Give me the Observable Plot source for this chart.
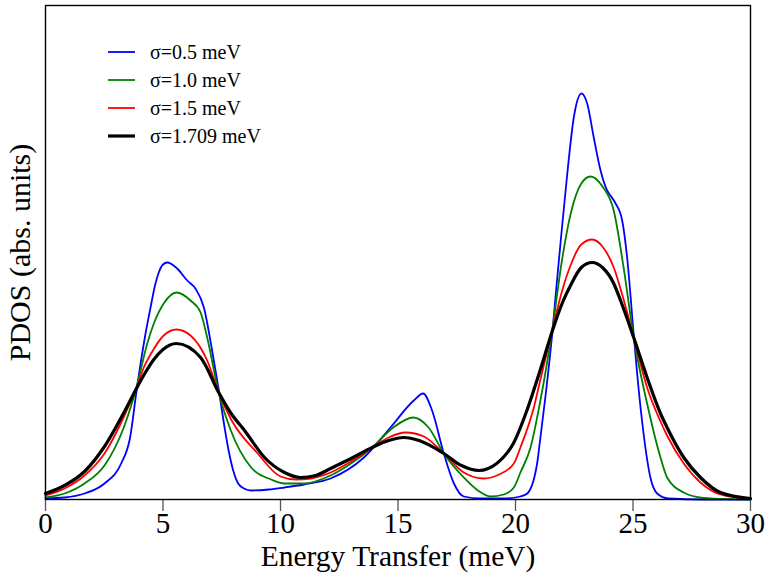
<!DOCTYPE html>
<html><head><meta charset="utf-8">
<script src="https://cdn.jsdelivr.net/npm/d3@7"></script>
<script src="https://cdn.jsdelivr.net/npm/@observablehq/plot@0.6"></script>
<style>
body{margin:0;background:#fff;}
#chart{position:relative;width:767px;height:580px;}
</style></head><body><div id="chart"></div>
<script>
const series = ["σ=0.5 meV","σ=1.0 meV","σ=1.5 meV","σ=1.709 meV"];
const colors = ["#0000ff","#008000","#ff0000","#000000"];
const widths = [1.8,1.8,1.8,3.2];
const xTicks = [0,5,10,15,20,25,30];

const energy05 = [0,0.81,1.66,2.51,3.22,3.6,3.87,4.04,4.25,4.47,4.65,4.82,5.0,5.18,5.6,6.03,6.38,6.74,7.09,7.37,7.6,7.8,8.0,8.2,8.45,8.75,9.5,10.17,11,12.13,13.55,14.68,15.67,16.07,16.45,16.95,17.38,17.8,18.5,19.5,20.2,20.5,20.92,21.06,21.3,21.56,21.75,21.91,22.2,22.48,22.81,23.05,23.33,23.62,23.9,24.04,24.26,24.54,24.75,25.03,25.18,25.46,25.74,26.03,26.5,28,30];
const pdos05 = [1,2,6,16,36,62,108,135,165,192,213,227,235,237,231,219,211,192,149,110,75,48,28,16,11,9,10,12,15,21,42,72,99,106,89,46,16,3,1,1,3,6,36,62,108,165,215,255,325,382,406,396,362,329,309,304,296,279,242,165,125,64,22,6,1,0,0];

const energy10 = [0,0.81,1.66,2.51,3.33,3.87,4.33,4.61,5.03,5.57,6.17,6.6,6.88,7.37,7.87,8.75,9.6,10.17,11,12.13,13.0,13.9,14.8,15.65,16.3,16.95,17.8,18.4,18.94,19.5,19.93,20.21,20.64,21.06,21.56,21.95,22.34,22.8,23.19,23.7,24.18,24.6,25.03,25.6,26.17,26.45,27.16,28,29,30];
const pdos10 = [2,6,16,34,72,112,156,176,196,207,199,187,162,107,70,32,20,16,16,24,36,52,72,82,72,46,22,9,3,5,12,27,52,99,169,235,285,316,323,313,289,232,162,96,42,22,7,1.5,0.3,0];

const energy15 = [0,0.81,1.66,2.51,3.36,3.87,4.2,4.47,5.03,5.57,6.17,6.88,7.37,7.9,9.03,10.0,10.64,11.3,12.13,13.0,13.9,14.6,15.32,16.1,16.95,17.8,18.65,19.3,19.93,20.21,20.78,21.06,21.56,22.0,22.34,22.8,23.26,23.7,24.18,24.6,25.03,25.6,26.17,26.45,27.16,27.87,28.72,30];
const pdos15 = [4,11,24,46,84,112,133,145,164,170,164,139,107,80,46,23,20,21,27,38,52,62,67,63,46,27,21,25,36,52,92,120,169,210,234,255,260,253,232,200,162,112,78,64,36,17,5,0.5];

const energy1709 = [0,0.81,1.66,2.51,3.36,3.87,4.2,4.61,5.0,5.57,6.6,7.37,7.9,8.47,9.32,10.17,10.85,11.5,12.13,13.0,13.9,14.6,15.25,15.9,16.95,17.7,18.44,19.2,19.93,20.5,21.06,21.56,22.0,22.34,22.8,23.26,23.7,24.18,24.47,25.03,25.6,26.17,26.45,27.16,27.87,28.72,30];
const pdos1709 = [6,14,28,53,88,111,125,140,150,156,142,107,86,69,42,27,22,24,31,41,52,59,62,59,46,34,29,36,57,90,130,168,197,214,232,237,232,216,199,162,122,86,72,42,22,7,1];

const energies = [energy05, energy10, energy15, energy1709];
const pdoses = [pdos05, pdos10, pdos15, pdos1709];
const data = [];
series.forEach((s, i) => energies[i].forEach((e, j) => data.push({s, e, p: pdoses[i][j]})));

const font = "'Liberation Serif','Times New Roman',serif";
const plot = Plot.plot({
  width: 767, height: 580,
  marginLeft: 45, marginRight: 17, marginTop: 5, marginBottom: 81,
  style: {fontFamily: font, background: "#fff", color: "#000"},
  x: {domain: [0, 30]},
  y: {domain: [0, 494]},
  marks: [
    Plot.axisY({ticks: [], label: null}),
    Plot.axisX({ticks: xTicks, tickSize: 12, tickPadding: 1, fontSize: 29, fontFamily: font, label: null, stroke: "#555", fill: "#000", strokeWidth: 1.3}),
    ...series.map((s, i) => Plot.line(data.filter(d => d.s === s), {x: "e", y: "p", stroke: colors[i], strokeWidth: widths[i], curve: "monotone-x"})),
    Plot.frame({stroke: "#000", strokeWidth: 1.4}),
    Plot.text(["Energy Transfer (meV)"], {frameAnchor: "bottom", dy: 66, fontSize: 29.5, fontFamily: font, fill: "#000"}),
    Plot.text(["PDOS (abs. units)"], {frameAnchor: "left", dx: -25, rotate: -90, textAnchor: "middle", fontSize: 30, fontFamily: font, fill: "#000"})
  ]
});
const chart = document.getElementById("chart");
chart.appendChild(plot);

const leg = d3.select("#chart").append("svg")
  .attr("width", 240).attr("height", 120)
  .style("position", "absolute").style("left", "100px").style("top", "38px");
series.forEach((s, i) => {
  const y = 14 + i * 28;
  leg.append("line").attr("x1", 8).attr("x2", 35).attr("y1", y).attr("y2", y)
    .attr("stroke", colors[i]).attr("stroke-width", widths[i]);
  leg.append("text").attr("x", 50).attr("y", y).attr("dy", "0.35em")
    .attr("font-family", font).attr("font-size", 20).attr("fill", "#000").text(s);
});
</script></body></html>
